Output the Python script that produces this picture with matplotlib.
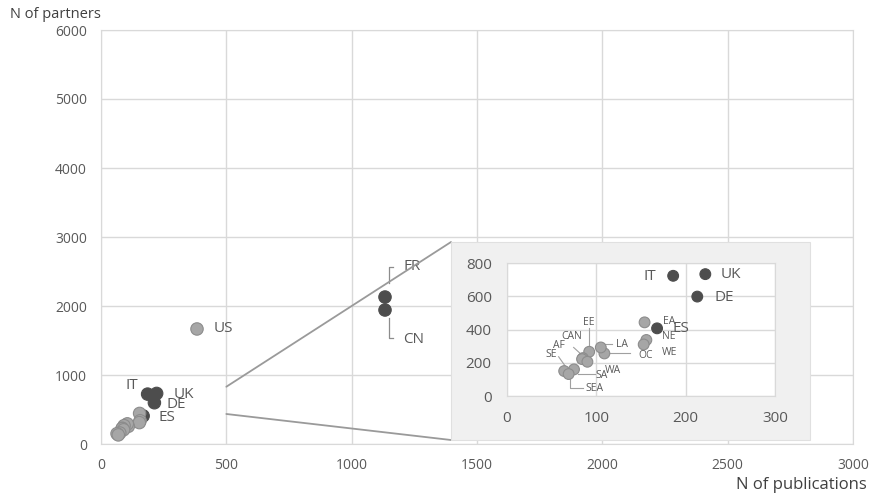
import matplotlib
matplotlib.use("Agg")
import matplotlib.pyplot as plt
from matplotlib.patches import Rectangle, ConnectionPatch

plt.rcParams['font.family'] = ['Open Sans', 'DejaVu Sans']

# Publications vs. partners per country / region
names = ["US", "FR", "CN", "IT", "UK", "DE", "ES", "EA", "NE", "WE", "OC",
         "LA", "EE", "CAN", "AF", "WA", "SA", "SE", "SEA"]
publications = [383, 1133, 1133, 186, 222, 213, 168, 154, 156, 153, 109,
                105, 92, 85, 84, 90, 75, 64, 69]
partners = [1667, 2130, 1942, 723, 733, 598, 407, 443, 337, 310, 256,
            292, 266, 228, 222, 206, 160, 150, 132]
is_country = [False, True, True, True, True, True, True, False, False, False, False,
              False, False, False, False, False, False, False, False]

main_xticks = [0, 500, 1000, 1500, 2000, 2500, 3000]
main_yticks = [0, 1000, 2000, 3000, 4000, 5000, 6000]
inset_xticks = [0, 100, 200, 300]
inset_yticks = [0, 200, 400, 600, 800]

DARK = "#4d4d4d"
LIGHT = "#a6a6a6"
LIGHT_EDGE = "#8c8c8c"
GRID = "#d9d9d9"
TXT = "#595959"

fig = plt.figure(figsize=(8.71, 4.94), dpi=100)
ax = fig.add_axes([101/871, 1-444/494, 752/871, 414/494])

def colours(flags):
    face = [DARK if f else LIGHT for f in flags]
    edge = [DARK if f else LIGHT_EDGE for f in flags]
    return face, edge

face, edge = colours(is_country)
ax.scatter(publications, partners, s=80, c=face, edgecolors=edge, linewidths=0.8, zorder=3)
ax.set_xlim(main_xticks[0], main_xticks[-1])
ax.set_ylim(main_yticks[0], main_yticks[-1])
ax.set_xticks(main_xticks)
ax.set_yticks(main_yticks)
ax.grid(True, color=GRID, linewidth=1)
ax.set_axisbelow(True)
for s in ax.spines.values():
    s.set_color(GRID)
ax.tick_params(length=0, labelsize=10, labelcolor=TXT, pad=10)
ax.tick_params(axis='y', pad=10)

fig.text(10/871, 1-15/494, "N of partners", fontsize=10.5, color="#404040",
         ha="left", va="center")
fig.text(867/871, 1-485/494, "N of publications", fontsize=12, color="#404040",
         ha="right", va="center")

# Labels on the overview
main_labels = {"US": (12, 0, "left"), "FR": (13, 22, "left"), "CN": (13, -21, "left"),
               "IT": (-7, 6, "right"), "UK": (12, -1, "left"), "DE": (9, -1, "left"),
               "ES": (11, -1, "left")}
for n, x, y in zip(names, publications, partners):
    if n in main_labels:
        dx, dy, ha = main_labels[n]
        ax.annotate(n, (x, y), xytext=(dx, dy), textcoords="offset points",
                    ha=ha, va="center", fontsize=11, color=TXT, zorder=4)

# bracket leaders for FR / CN
i_fr = names.index("FR")
bx0, bx1 = publications[i_fr] + 16, publications[i_fr] + 32
ax.plot([bx1, bx0, bx0], [2565, 2565, 2333], color="#8c8c8c", lw=0.9, zorder=2)
ax.plot([bx1, bx0, bx0], [1536, 1536, 1826], color="#8c8c8c", lw=0.9, zorder=2)

# Magnified panel
box_l, box_b, box_r, box_t = 451/871, 1-440/494, 810/871, 1-242/494
fig.patches.append(Rectangle((box_l, box_b), box_r-box_l, box_t-box_b,
                             transform=fig.transFigure, facecolor="#f0f0f0",
                             edgecolor="#e0e0e0", lw=0.8, zorder=5))

for y0, corner in ((830, (box_l, box_t)), (435, (box_l, box_b))):
    con = ConnectionPatch(xyA=(500, y0), coordsA=ax.transData,
                          xyB=corner, coordsB=fig.transFigure,
                          color="#9a9a9a", lw=1.3)
    fig.add_artist(con)

ins = fig.add_axes([507/871, 1-396/494, 268/871, 133/494], zorder=6)
ins.set_facecolor("white")
ins.scatter(publications, partners, s=60, c=face, edgecolors=edge, linewidths=0.8,
            zorder=3, clip_on=True)
ins.set_xlim(inset_xticks[0], inset_xticks[-1])
ins.set_ylim(inset_yticks[0], inset_yticks[-1])
ins.set_xticks(inset_xticks)
ins.set_yticks(inset_yticks)
ins.grid(True, color=GRID, linewidth=1)
ins.set_axisbelow(True)
for s in ins.spines.values():
    s.set_color(GRID)
ins.tick_params(length=0, labelsize=11, labelcolor=TXT, pad=11)

inset_labels = {"IT": (160, 719, 11), "UK": (251, 729, 11), "DE": (243, 595, 11),
                "ES": (195, 407, 11), "EA": (181, 447, 7.5), "NE": (181, 358, 7.5),
                "WE": (182, 262, 7.5), "OC": (155, 246, 7.5), "LA": (129, 310, 7.5),
                "EE": (92, 441, 7.5), "CAN": (73, 357, 7.5), "AF": (58, 306, 7.5),
                "SE": (50, 250, 7.5), "SA": (106, 125, 7.5), "WA": (118, 155, 7.5),
                "SEA": (98, 44, 7.5)}
for n in names:
    if n in inset_labels:
        lx, ly, fs = inset_labels[n]
        ins.text(lx, ly, n, fontsize=fs, color=TXT, ha="center", va="center", zorder=4)

leaders = [([91.4, 91.4], [407, 276]),
           ([74.6, 84], [292, 246]),
           ([57.8, 67], [236, 166]),
           ([80, 99], [135, 135]),
           ([71, 71, 85], [115, 51, 51]),
           ([110, 118], [312, 312]),
           ([110, 138], [256, 256])]
for xs, ys in leaders:
    ins.plot(xs, ys, color="#a0a0a0", lw=0.8, zorder=2)

fig.savefig("out.png", dpi=100)
